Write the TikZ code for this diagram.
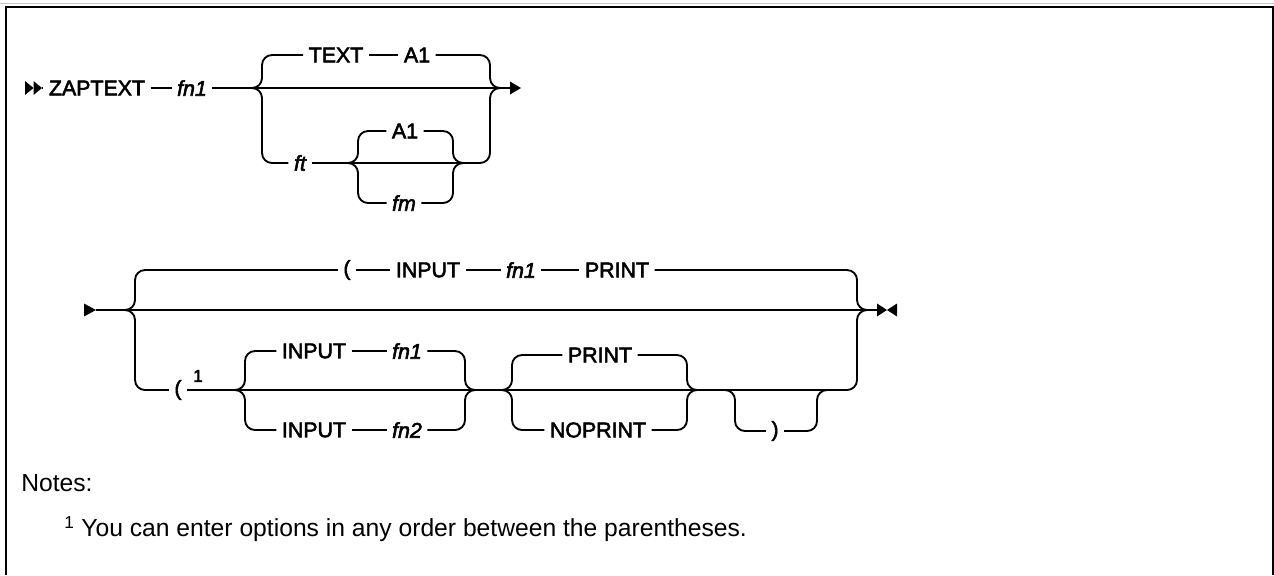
\documentclass[tikz,border=0pt]{standalone}
\usepackage{fontspec}
\setmainfont{Liberation Sans}
\newfontfamily\kwfont[FakeBold=2.5]{Liberation Sans}
\usetikzlibrary{calc}

\begin{document}
\begin{tikzpicture}[x=0.75pt,y=0.75pt,yscale=-1,xscale=1,
  kw/.style={font=\kwfont\fontsize{16}{18}\selectfont, inner sep=4pt},
  var/.style={font=\kwfont\itshape\fontsize{16}{18}\selectfont, inner sep=4pt},
  rail/.style={line width=1.4pt, rounded corners=7.5pt},
  note/.style={font=\fontsize{18.5}{22}\selectfont, anchor=west, inner sep=0pt}]
\path[use as bounding box] (0,0) rectangle (1274,575);

%Shape: Frame
\draw [color={rgb, 255:red, 200; green, 200; blue, 200 }, line width=1.2pt] (0,3.5) -- (1274,3.5) ;
\draw [line width=1.5pt] (5.5,575) -- (5.5,6.5) -- (1272.5,6.5) -- (1272.5,575) ;

% Row 1 ------------------------------------------------
\coordinate (s1) at (42,88);
\coordinate (aL) at (262,88);
\coordinate (aR) at (490,88);
\coordinate (ain) at (252,88);
\coordinate (aout) at (500,88);
\coordinate (bL) at (358,163);
\coordinate (bR) at (453,163);
\coordinate (bin) at (348,163);
\coordinate (bout) at (463,163);
\coordinate (e1) at (510,88);
%Shape: Start marker
\fill (25,81) -- (33.5,88) -- (25,95) -- cycle ;
\fill (33.5,81) -- (42,88) -- (33.5,95) -- cycle ;
% Text Node
\draw (97,88) node (zap) [kw] {ZAPTEXT};
% Text Node
\draw (192,88) node (fna) [var] {fn1};
% Text Node
\draw (336,55) node (txt) [kw] {TEXT};
% Text Node
\draw (417,55) node (aa) [kw] {A1};
% Text Node
\draw (300,163) node (ft) [var] {ft};
% Text Node
\draw (405,131) node (ab) [kw] {A1};
% Text Node
\draw (404,203) node (fm) [var] {fm};
%Straight Lines
\draw [rail] (s1) -- (zap) ;
\draw [rail] (zap) -- (fna) ;
\draw [rail] (fna) -- (ain) -- (aout) -- (e1) ;
\draw [rail] (ain) -| (aL |- txt) -- (txt) ;
\draw [rail] (txt) -- (aa) ;
\draw [rail] (aa) -- (aR |- aa) |- (aout) ;
\draw [rail] (ain) -| (aL |- ft) -- (ft) ;
\draw [rail] (ft) -- (bin) -- (bout) ;
\draw [rail] (bout) -- (aR |- bout) |- (aout) ;
\draw [rail] (bin) -| (bL |- ab) -- (ab) ;
\draw [rail] (ab) -- (bR |- ab) |- (bout) ;
\draw [rail] (bin) -| (bL |- fm) -- (fm) ;
\draw [rail] (fm) -- (bR |- fm) |- (bout) ;
%Shape: Arrow
\fill (510,81.5) -- (521,88) -- (510,94.5) -- cycle ;

% Row 2 ------------------------------------------------
\coordinate (s2) at (96,310);
\coordinate (cL) at (135,310);
\coordinate (cR) at (857,310);
\coordinate (cin) at (125,310);
\coordinate (cout) at (867,310);
\coordinate (e2) at (877,310);
\coordinate (dL) at (245,390);
\coordinate (dR) at (465,390);
\coordinate (din) at (235,390);
\coordinate (dout) at (475,390);
\coordinate (eL) at (512,390);
\coordinate (eR) at (687,390);
\coordinate (ein) at (502,390);
\coordinate (eout) at (697,390);
\coordinate (fL) at (735,390);
\coordinate (fR) at (817,390);
\coordinate (fin) at (725,390);
\coordinate (fout) at (827,390);
%Shape: Start marker
\fill (84,303.5) -- (96,310) -- (84,316.5) -- cycle ;
% Text Node
\draw (347,270) node (lpa) [kw] {(};
% Text Node
\draw (428,270) node (ina) [kw] {INPUT};
% Text Node
\draw (521,270) node (fnb) [var] {fn1};
% Text Node
\draw (617,270) node (pra) [kw] {PRINT};
% Text Node
\draw (178,390) node (lpb) [kw] {(};
% Text Node
\draw (198,376) node (sup) [font=\kwfont\fontsize{13}{15}\selectfont, inner sep=0pt] {1};
% Text Node
\draw (314,351) node (inb) [kw] {INPUT};
% Text Node
\draw (407,351) node (fnc) [var] {fn1};
% Text Node
\draw (314,430) node (inc) [kw] {INPUT};
% Text Node
\draw (407,430) node (fnd) [var] {fn2};
% Text Node
\draw (600,355) node (prb) [kw] {PRINT};
% Text Node
\draw (598,430) node (npr) [kw] {NOPRINT};
% Text Node
\draw (775,431) node (rp) [kw] {)};
%Straight Lines
\draw [rail] (s2) -- (cin) -- (cout) -- (e2) ;
\draw [rail] (cin) -| (cL |- lpa) -- (lpa) ;
\draw [rail] (lpa) -- (ina) ;
\draw [rail] (ina) -- (fnb) ;
\draw [rail] (fnb) -- (pra) ;
\draw [rail] (pra) -- (cR |- pra) |- (cout) ;
\draw [rail] (cin) -| (cL |- lpb) -- (lpb) ;
\draw [rail] (lpb) -- (din) -- (dout) -- (ein) -- (eout) -- (fin) -- (fout) ;
\draw [rail] (fout) -- (cR |- fout) |- (cout) ;
\draw [rail] (din) -| (dL |- inb) -- (inb) ;
\draw [rail] (inb) -- (fnc) ;
\draw [rail] (fnc) -- (dR |- fnc) |- (dout) ;
\draw [rail] (din) -| (dL |- inc) -- (inc) ;
\draw [rail] (inc) -- (fnd) ;
\draw [rail] (fnd) -- (dR |- fnd) |- (dout) ;
\draw [rail] (ein) -| (eL |- prb) -- (prb) ;
\draw [rail] (prb) -- (eR |- prb) |- (eout) ;
\draw [rail] (ein) -| (eL |- npr) -- (npr) ;
\draw [rail] (npr) -- (eR |- npr) |- (eout) ;
\draw [rail] (fin) -| (fL |- rp) -- (rp) ;
\draw [rail] (rp) -- (fR |- rp) |- (fout) ;
%Shape: End marker
\fill (877,303.5) -- (887,310) -- (877,316.5) -- cycle ;
\fill (897,303.5) -- (887,310) -- (897,316.5) -- cycle ;

% Notes ------------------------------------------------
% Text Node
\draw (21,483) node (nts) [note] {Notes:};
% Text Node
\draw (64,529) node (fnt) [note] {\textsuperscript{1} You can enter options in any order between the parentheses.};

\end{tikzpicture}
\end{document}
